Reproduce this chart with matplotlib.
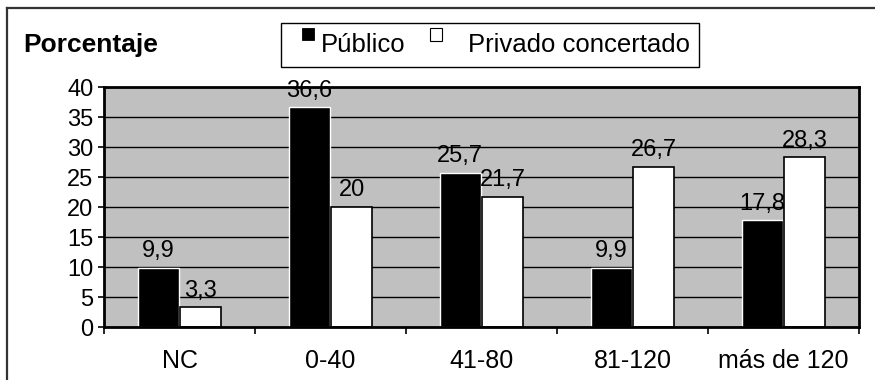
import matplotlib
matplotlib.use("Agg")
import matplotlib.pyplot as plt
from matplotlib.patches import Rectangle
from matplotlib.lines import Line2D
import numpy as np

# Data
categories = ["NC", "0-40", "41-80", "81-120", "más de 120"]
publico = [9.9, 36.6, 25.7, 9.9, 17.8]
privado = [3.3, 20, 21.7, 26.7, 28.3]
series_names = ["Público", "Privado concertado"]
y_ticks = [0, 5, 10, 15, 20, 25, 30, 35, 40]
y_title = "Porcentaje"

plt.rcParams['font.family'] = ['Liberation Sans', 'DejaVu Sans']

W, H = 875, 380
fig = plt.figure(figsize=(W / 100, H / 100), dpi=100)


def fx(px):
    return px / W


def fy(py):
    return 1 - py / H


def fmt(v):
    return f"{v:g}".replace(".", ",")


# Outer chart frame (left and top edges)
fig.add_artist(Line2D([fx(7), fx(7)], [fy(8), fy(381)], color="#333333", lw=1.6))
fig.add_artist(Line2D([fx(7), fx(876)], [fy(8), fy(8)], color="#333333", lw=1.6))

# Plot area
ax = fig.add_axes([fx(104), fy(327), (859 - 104) / W, (327 - 87) / H])
ax.set_facecolor("#c0c0c0")

x = np.arange(len(categories))
bw = 0.272
off = 0.142
b1 = ax.bar(x - off, publico, bw, color="black", edgecolor="white", linewidth=1.0, zorder=3)
b2 = ax.bar(x + off, privado, bw, color="white", edgecolor="black", linewidth=1.2, zorder=3)

ax.set_xlim(-0.5, len(categories) - 0.5)
ax.set_ylim(0, 40)
ax.set_yticks(y_ticks)
ax.yaxis.grid(True, color="black", linewidth=1.0)
ax.set_axisbelow(True)

ax.set_xticks(x)
ax.set_xticklabels(categories)
ax.set_xticks(np.arange(len(categories) + 1) - 0.5, minor=True)
ax.tick_params(axis="x", which="major", length=0, pad=16, labelsize=18)
ax.tick_params(axis="x", which="minor", length=5, width=1.2)
ax.tick_params(axis="y", length=4.5, width=1.2, pad=3, labelsize=17)
for sp in ax.spines.values():
    sp.set_linewidth(2)
    sp.set_zorder(4)

ax.bar_label(b1, labels=[fmt(v) for v in publico], padding=4, fontsize=17)
ax.bar_label(b2, labels=[fmt(v) for v in privado], padding=4, fontsize=17)

# Axis title
fig.text(fx(23), fy(52), y_title, fontsize=19, fontweight="bold", va="baseline", ha="left")

# Legend
fig.add_artist(Rectangle((fx(281), fy(67)), (699 - 281) / W, (67 - 23) / H,
                         transform=fig.transFigure, facecolor="white",
                         edgecolor="black", lw=1.0))
fig.add_artist(Rectangle((fx(302), fy(40)), 12 / W, 12 / H, transform=fig.transFigure,
                         facecolor="black", edgecolor="black", lw=0.6))
fig.text(fx(321), fy(52), series_names[0], fontsize=18.5, va="baseline", ha="left")
fig.add_artist(Rectangle((fx(430), fy(41)), 12 / W, 13 / H, transform=fig.transFigure,
                         facecolor="white", edgecolor="black", lw=0.8))
fig.text(fx(468), fy(52), series_names[1], fontsize=18.5, va="baseline", ha="left")

fig.savefig("out.png", dpi=100)
